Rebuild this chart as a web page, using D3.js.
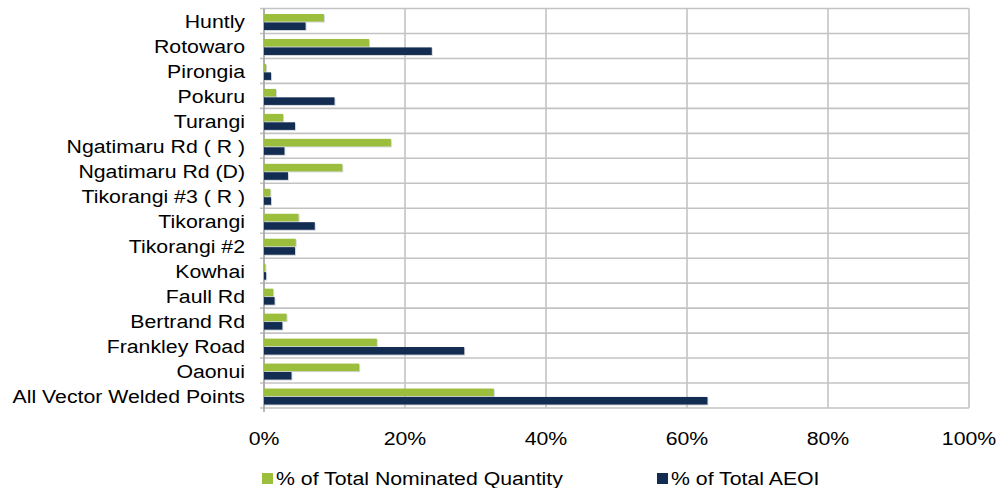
<!DOCTYPE html>
<html>
<head>
<meta charset="utf-8">
<script src="https://cdn.jsdelivr.net/npm/d3@7"></script>
<style>
  html, body { margin: 0; padding: 0; background: #fff; }
  svg { display: block; }
  text { font-family: "Liberation Sans", Arial, sans-serif; fill: #000; }
</style>
</head>
<body>
<svg id="chart" width="996" height="488"></svg>
<script>
// Delivery points, top to bottom
const categories = [
  "Huntly", "Rotowaro", "Pirongia", "Pokuru", "Turangi",
  "Ngatimaru Rd ( R )", "Ngatimaru Rd (D)", "Tikorangi #3 ( R )",
  "Tikorangi", "Tikorangi #2", "Kowhai", "Faull Rd", "Bertrand Rd",
  "Frankley Road", "Oaonui", "All Vector Welded Points"
];
const seriesNames = ["% of Total Nominated Quantity", "% of Total AEOI"];
// Shares in percent
const nominated = [8.5, 14.9, 0.3, 1.7, 2.7, 18.0, 11.1, 0.9, 4.9, 4.5, 0.2, 1.3, 3.2, 16.0, 13.5, 32.6];
const aeoi      = [5.9, 23.8, 1.0, 10.0, 4.4, 2.9, 3.4, 1.0, 7.2, 4.4, 0.3, 1.5, 2.6, 28.4, 3.9, 62.9];
const xTicks = [0, 20, 40, 60, 80, 100];
const colors = ["#9bbf3c", "#132d52"];

(function draw() {
  const svg = d3.select("#chart");
  const plotLeft = 264, plotRight = 969, plotTop = 8.5, plotBottom = 408;
  const stretch = 1.12;
  const fontSize = "19px";

  const x = d3.scaleLinear().domain([0, 100]).range([plotLeft, plotRight]);
  const y = d3.scaleBand().domain(categories).range([plotTop, plotBottom]).padding(0);
  const ySub = d3.scaleBand().domain(seriesNames).range([5.5, 21.5]).paddingInner(0.1);

  const grid = "#c3c3c3";

  // vertical gridlines
  svg.append("g").selectAll("line").data(xTicks).join("line")
    .attr("x1", d => x(d)).attr("x2", d => x(d))
    .attr("y1", plotTop).attr("y2", plotBottom)
    .attr("stroke", grid).attr("stroke-width", 1.6);

  // horizontal category separators
  const seps = categories.map(c => y(c)).concat([plotBottom]);
  svg.append("g").selectAll("line").data(seps).join("line")
    .attr("x1", plotLeft - 4).attr("x2", plotRight)
    .attr("y1", d => d).attr("y2", d => d)
    .attr("stroke", grid).attr("stroke-width", 1.6);

  // value axis line
  svg.append("line")
    .attr("x1", plotLeft).attr("x2", plotLeft).attr("y1", plotTop).attr("y2", plotBottom + 4)
    .attr("stroke", "#a8a8a8").attr("stroke-width", 1.6);

  const series = [nominated, aeoi];
  series.forEach((vals, si) => {
    const g = svg.append("g");
    // soft drop shadow
    g.selectAll("rect.sh").data(vals).join("rect")
      .attr("class", "sh")
      .attr("x", x(0) + 1)
      .attr("y", (d, i) => y(categories[i]) + ySub(seriesNames[si]) + 1)
      .attr("width", d => Math.max(0, x(d) - x(0)))
      .attr("height", ySub.bandwidth())
      .attr("fill", "#b8bcc4").attr("opacity", 0.6);
    g.selectAll("rect.bar").data(vals).join("rect")
      .attr("class", "bar")
      .attr("x", x(0))
      .attr("y", (d, i) => y(categories[i]) + ySub(seriesNames[si]))
      .attr("width", d => Math.max(0, x(d) - x(0)))
      .attr("height", ySub.bandwidth())
      .attr("fill", colors[si]);
  });

  // category labels
  svg.append("g").selectAll("text").data(categories).join("text")
    .attr("transform", d => `translate(245,${y(d) + y.bandwidth() / 2 + 7.5}) scale(${stretch},1)`)
    .attr("text-anchor", "end")
    .style("font-size", fontSize)
    .text(d => d);

  // x tick labels
  svg.append("g").selectAll("text").data(xTicks).join("text")
    .attr("transform", d => `translate(${x(d)},445) scale(${stretch},1)`)
    .attr("text-anchor", "middle")
    .style("font-size", fontSize)
    .text(d => d + "%");

  // legend
  const legendX = [262, 657];
  const lg = svg.append("g").selectAll("g").data(seriesNames).join("g")
    .attr("transform", (d, i) => `translate(${legendX[i]},0)`);
  lg.append("rect").attr("x", 0).attr("y", 473).attr("width", 11).attr("height", 11)
    .attr("fill", (d, i) => colors[i]);
  lg.append("text")
    .attr("transform", `translate(14,484.5) scale(${stretch},1)`)
    .style("font-size", fontSize)
    .text(d => d);
})();
</script>
</body>
</html>
